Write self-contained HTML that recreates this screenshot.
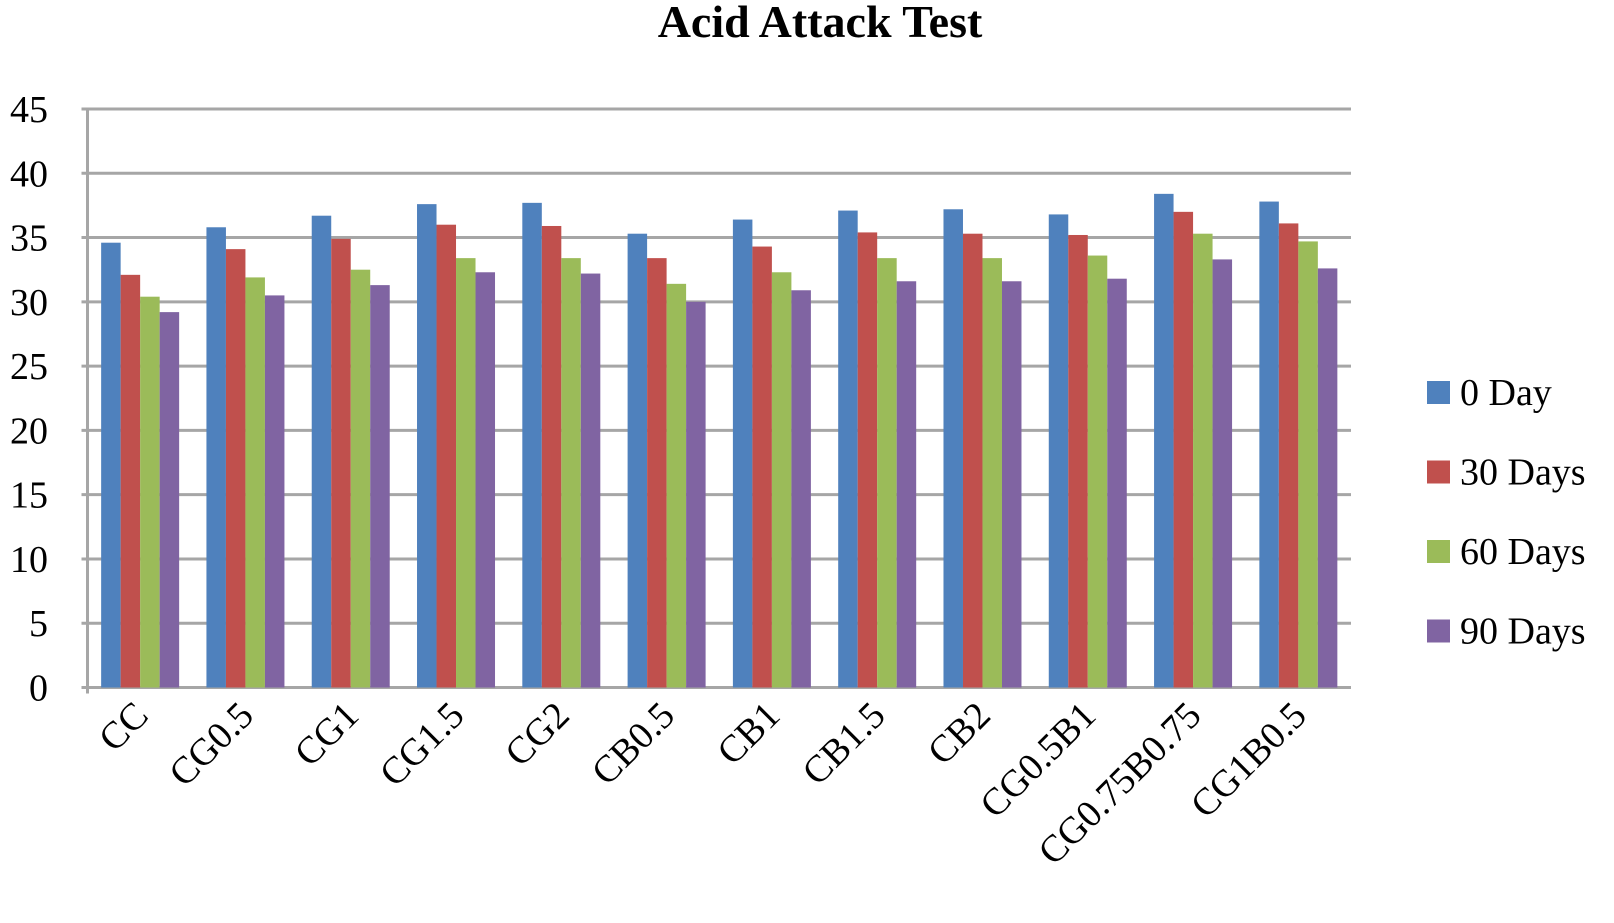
<!DOCTYPE html>
<html><head><meta charset="utf-8"><style>body{margin:0;background:#fff}svg{display:block}</style></head>
<body>
<svg id="chart" width="1614" height="923" xmlns="http://www.w3.org/2000/svg" font-family="Liberation Serif, serif">
<text x="820" y="37" text-anchor="middle" font-size="46" font-weight="bold">Acid Attack Test</text>
<g id="grid"></g><g id="bars"></g><g id="xl"></g><g id="legend"></g>
</svg>
<script>
const categories=["CC","CG0.5","CG1","CG1.5","CG2","CB0.5","CB1","CB1.5","CB2","CG0.5B1","CG0.75B0.75","CG1B0.5"];
const seriesNames=["0 Day","30 Days","60 Days","90 Days"];
const s0=[34.6,35.8,36.7,37.6,37.7,35.3,36.4,37.1,37.2,36.8,38.4,37.8];
const s30=[32.1,34.1,34.9,36.0,35.9,33.4,34.3,35.4,35.3,35.2,37.0,36.1];
const s60=[30.4,31.9,32.5,33.4,33.4,31.4,32.3,33.4,33.4,33.6,35.3,34.7];
const s90=[29.2,30.5,31.3,32.3,32.2,30.0,30.9,31.6,31.6,31.8,33.3,32.6];
const yTicks=[0,5,10,15,20,25,30,35,40,45];
const series=[s0,s30,s60,s90];
const colors=["#4f81bd","#c0504d","#9bbb59","#8064a2"];
const NS="http://www.w3.org/2000/svg";
const L=87.5,R=1351,T=109,B=687.5,yMax=45;
const y=v=>B-(v/yMax)*(B-T);
const gw=(R-L)/categories.length,bw=19.5,off=(gw-4*bw)/2;
function mk(tag,at,parent,txt){const e=document.createElementNS(NS,tag);for(const k in at)e.setAttribute(k,at[k]);if(txt!==undefined)e.textContent=txt;document.getElementById(parent).appendChild(e);return e;}
yTicks.forEach(t=>{
 const l=mk('line',{x1:L-6,x2:R,y1:y(t),y2:y(t),stroke:'#a6a6a6','stroke-width':3},'grid');
 
 
 const tx=mk('text',{x:48,y:y(t)+13,'text-anchor':'end','font-size':38},'grid',String(t));
 
 
});
const ax=mk('line',{x1:L,x2:L,y1:T,y2:B+6,stroke:'#a6a6a6','stroke-width':3},'grid');


categories.forEach((c,i)=>{
 series.forEach((s,j)=>{
  const r=mk('rect',{x:L+i*gw+off+j*bw,y:y(s[i]),width:bw,height:B-y(s[i]),fill:colors[j]},'bars');
  
  
 });
 const cx=L+i*gw+gw/2+10,cy=B+30;
 const t=mk('text',{x:cx,y:cy,'text-anchor':'end','font-size':38,transform:`rotate(-45 ${cx} ${cy})`},'xl',c);
 
 
});
seriesNames.forEach((n,j)=>{
 const yy=392+j*79.5;
 const r=mk('rect',{x:1427,y:yy-11,width:23,height:23,fill:colors[j]},'legend');
 
 
 const t=mk('text',{x:1460,y:yy+13,'font-size':38},'legend',n);
 
 
});
</script>
</body></html>
